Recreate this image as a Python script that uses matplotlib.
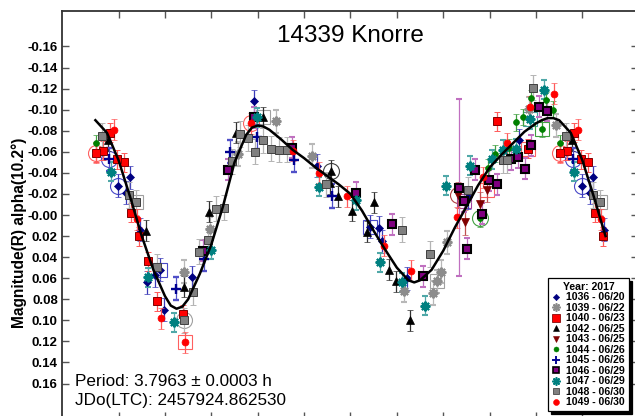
"""Lightcurve of 14339 Knorre, phased to P = 3.7963 h."""

import matplotlib

matplotlib.use("Agg")

import matplotlib.pyplot as plt
import numpy as np
from matplotlib.lines import Line2D

plt.rcParams["font.family"] = ["Liberation Sans", "DejaVu Sans"]

# ---- data (phase 0..1, reduced magnitude) ----
S1036_PH = [0.999, 0.024, 0.016, 0.046, 0.062, 0.078, 0.089, 0.098, 0.158, 0.292,
            0.427, 0.542, 0.562, 0.567, 0.621, 0.754, 0.864]
S1036_MAG = [-0.028, -0.036, -0.021, 0.014, 0.064, 0.057, 0.052, 0.090, 0.059, -0.108,
             -0.047, 0.011, 0.012, 0.025, 0.060, -0.017, -0.071]

S1039_PH = [0.141, 0.198, 0.258, 0.339, 0.418, 0.615, 0.677, 0.686, 0.695, 0.709,
            0.885, 0.943]
S1039_MAG = [0.054, 0.013, -0.058, -0.089, -0.056, 0.072, 0.074, 0.063, 0.054, 0.026,
             -0.101, -0.085]

S1040_PH = [0.966, 0.982, 0.997, 0.012, 0.027, 0.044, 0.064, 0.083, 0.138, 0.816,
            0.883, 0.951]
S1040_MAG = [-0.061, -0.078, -0.053, -0.050, -0.002, 0.020, 0.044, 0.082, 0.094, -0.089,
             -0.063, -0.059]

S1042_PH = [0.978, 0.059, 0.141, 0.195, 0.254, 0.312, 0.459, 0.456, 0.474, 0.504,
            0.550, 0.535, 0.583, 0.598, 0.628]
S1042_MAG = [-0.071, 0.015, 0.068, -0.003, -0.078, -0.093, -0.042, -0.030, -0.018, -0.004,
             -0.012, 0.016, 0.052, 0.063, 0.100]

S1043_PH = [0.732, 0.748, 0.795, 0.779]
S1043_MAG = [-0.019, 0.007, -0.024, -0.010]

S1044_PH = [0.951, 0.779, 0.796, 0.811, 0.842, 0.858, 0.873, 0.890, 0.921, 0.936, 0.914]
S1044_MAG = [-0.068, 0.003, -0.045, -0.058, -0.064, -0.088, -0.093, -0.111, -0.109, -0.100,
             -0.082]

S1045_PH = [0.980, 0.124, 0.184, 0.240, 0.298, 0.379, 0.461]
S1045_MAG = [-0.053, 0.070, 0.042, -0.060, -0.074, -0.052, -0.018]

S1046_PH = [0.181, 0.237, 0.292, 0.374, 0.511, 0.590, 0.657, 0.734, 0.745, 0.752,
            0.768, 0.783, 0.799, 0.815, 0.846, 0.862, 0.876, 0.890, 0.907, 0.923]
S1046_MAG = [0.034, -0.043, -0.093, -0.064, -0.021, 0.009, 0.058, -0.026, -0.013, 0.032,
             -0.043, -0.001, -0.033, -0.029, -0.053, -0.055, -0.044, -0.066, -0.103, -0.099]
S1046_BIG_ERR_INDEX = 7
S1046_BIG_ERR = 0.084

S1047_PH = [0.983, 0.064, 0.120, 0.200, 0.299, 0.433, 0.513, 0.563, 0.612, 0.660,
            0.707, 0.757, 0.806, 0.829, 0.857, 0.887, 0.918]
S1047_MAG = [-0.041, 0.059, 0.102, 0.033, -0.093, -0.027, -0.014, 0.045, 0.064, 0.086,
             -0.028, -0.047, -0.053, -0.062, -0.063, -0.091, -0.119]

S1048_PH = [0.964, 0.023, 0.037, 0.082, 0.141, 0.160, 0.174, 0.192, 0.210, 0.228,
            0.244, 0.262, 0.278, 0.295, 0.312, 0.328, 0.346, 0.364, 0.448, 0.612,
            0.671, 0.754, 0.828, 0.838, 0.894]
S1048_MAG = [-0.075, -0.019, -0.012, 0.049, 0.100, 0.073, 0.035, 0.024, -0.006, -0.007,
             -0.051, -0.077, -0.073, -0.060, -0.071, -0.063, -0.062, -0.062, -0.029, 0.014,
             0.037, -0.024, -0.052, -0.052, -0.121]

S1049_PH = [0.991, 0.951, 0.040, 0.091, 0.143, 0.285, 0.377, 0.433, 0.492, 0.572,
            0.630, 0.729, 0.785, 0.838, 0.888, 0.939]
S1049_MAG = [-0.081, -0.059, 0.004, 0.098, 0.121, -0.087, -0.061, -0.040, -0.018, 0.029,
             0.053, 0.002, -0.036, -0.068, -0.103, -0.115]

SESSION_ERR = [0.011, 0.011, 0.009, 0.010, 0.012, 0.008, 0.011, 0.010, 0.009, 0.012, 0.010]
SESSION_LABELS = ["1036 - 06/20", "1039 - 06/22", "1040 - 06/23", "1042 - 06/25",
                  "1043 - 06/25", "1044 - 06/26", "1045 - 06/26", "1046 - 06/29",
                  "1047 - 06/29", "1048 - 06/30", "1049 - 06/30"]

# highlighted (circled / boxed) observations
HL_PH = [0.999, 0.037, 0.089, 0.141, 0.143, 0.285, 0.312, 0.459, 0.542, 0.686,
         0.732, 0.745, 0.795, 0.779, 0.887, 0.914, 0.883, 0.951, 0.980]
HL_MAG = [-0.028, -0.012, 0.052, 0.100, 0.121, -0.087, -0.093, -0.042, 0.011, 0.063,
          -0.019, -0.013, -0.024, 0.003, -0.091, -0.082, -0.063, -0.059, -0.053]
HL_SHAPE = ["o", "s", "s", "o", "s", "o", "s", "o", "s", "s",
            "o", "s", "s", "o", "s", "s", "s", "o", "o"]
HL_COLOR = ["#4848c8", "#a0a0a0", "#4848c8", "#a0a0a0", "#ff6060", "#ff6060", "#a0a0a0",
            "#404040", "#4848c8", "#a0a0a0", "#b04040", "#a040a0", "#ff6060", "#40a040",
            "#40a0a0", "#40a040", "#ff6060", "#ff6060", "#4848c8"]

# Fourier fit
FIT_PH = [0.0, 0.025, 0.05, 0.075, 0.1, 0.1125, 0.125, 0.1375, 0.15, 0.175, 0.2, 0.225,
          0.25, 0.275, 0.2875, 0.3, 0.3125, 0.325, 0.35, 0.375, 0.4, 0.425, 0.45, 0.475,
          0.5, 0.525, 0.55, 0.575, 0.6, 0.625, 0.6375, 0.65, 0.675, 0.7, 0.725, 0.75,
          0.775, 0.8, 0.825, 0.85, 0.875, 0.9, 0.9125, 0.925, 0.9375, 0.95, 0.975, 1.0]
FIT_MAG = [-0.052, -0.017, 0.020, 0.052, 0.077, 0.086, 0.089, 0.087, 0.080, 0.056, 0.028,
           -0.008, -0.050, -0.076, -0.083, -0.085, -0.084, -0.081, -0.072, -0.062, -0.054,
           -0.045, -0.037, -0.029, -0.020, -0.004, 0.015, 0.033, 0.050, 0.062, 0.064, 0.062,
           0.052, 0.034, 0.012, -0.008, -0.028, -0.045, -0.057, -0.068, -0.079, -0.087,
           -0.090, -0.092, -0.092, -0.090, -0.078, -0.052]

Y_TICKS = np.round(np.arange(-0.16, 0.161, 0.02), 2)
X_TICKS = np.round(np.arange(0.0, 1.01, 0.1), 1)

STYLES = [
    dict(marker="D", ms=3.8, mfc="#000080", mec="#000080", mew=0.5, ecolor="#3a3ab8"),
    dict(marker=(8, 2, 0), ms=7, mfc="#8c8c8c", mec="#8c8c8c", mew=1.5, ecolor="#b8b8b8"),
    dict(marker="s", ms=6, mfc="#ff0000", mec="#800000", mew=0.7, ecolor="#ff5a5a"),
    dict(marker="^", ms=5.5, mfc="#000000", mec="#000000", mew=0.5, ecolor="#303030"),
    dict(marker="v", ms=5.5, mfc="#800000", mec="#800000", mew=0.5, ecolor="#c05050"),
    dict(marker="o", ms=4.2, mfc="#008000", mec="#008000", mew=0.5, ecolor="#40a040"),
    dict(marker="+", ms=7.5, mfc="#000090", mec="#000090", mew=1.7, ecolor="#5050c8"),
    dict(marker="s", ms=5.6, mfc="#800080", mec="#000000", mew=1.5, ecolor="#c070c0"),
    dict(marker=(8, 2, 0), ms=7, mfc="#008080", mec="#008080", mew=1.5, ecolor="#50a8a8"),
    dict(marker="s", ms=5.8, mfc="#808080", mec="#404040", mew=0.7, ecolor="#b4b4b4"),
    dict(marker="o", ms=5, mfc="#ff0000", mec="#ff0000", mew=0.5, ecolor="#ff5a5a"),
]


def wrap(ph, mag, err=None):
    ph = np.asarray(ph, dtype=float)
    mag = np.asarray(mag, dtype=float)
    lo = ph > 0.95
    hi = ph < 0.05
    out_ph = np.concatenate([ph, ph[lo] - 1.0, ph[hi] + 1.0])
    out_mag = np.concatenate([mag, mag[lo], mag[hi]])
    if err is None:
        return out_ph, out_mag
    err = np.asarray(err, dtype=float)
    return out_ph, out_mag, np.concatenate([err, err[lo], err[hi]])


def main() -> None:
    W, H = 635, 416
    fig = plt.figure(figsize=(W / 100, H / 100), dpi=100)
    left, right, top, bottom = 62, 638, 11, 419
    ax = fig.add_axes([left / W, 1 - bottom / H, (right - left) / W, (bottom - top) / H])

    sessions = [
        (S1036_PH, S1036_MAG), (S1039_PH, S1039_MAG), (S1040_PH, S1040_MAG),
        (S1042_PH, S1042_MAG), (S1043_PH, S1043_MAG), (S1044_PH, S1044_MAG),
        (S1045_PH, S1045_MAG), (S1046_PH, S1046_MAG), (S1047_PH, S1047_MAG),
        (S1048_PH, S1048_MAG), (S1049_PH, S1049_MAG),
    ]

    # highlight rings below the points
    for ph, mag, shp, col in zip(HL_PH, HL_MAG, HL_SHAPE, HL_COLOR):
        x, y = wrap([ph], [mag])
        ax.plot(x, y, ls="none", marker=shp, ms=10.5 if shp == "s" else 11.5,
                mfc="none", mec=col, mew=0.8, zorder=2)

    handles = []
    for i, (ph, mag) in enumerate(sessions):
        st = STYLES[i]
        err = np.full(len(ph), SESSION_ERR[i])
        if i == 7:
            err[S1046_BIG_ERR_INDEX] = S1046_BIG_ERR
        x, y, e = wrap(ph, mag, err)
        ax.errorbar(x, y, yerr=e, ls="none", marker=st["marker"], ms=st["ms"],
                    mfc=st["mfc"], mec=st["mec"], mew=st["mew"], ecolor=st["ecolor"],
                    elinewidth=0.9, capsize=2.2, capthick=0.9, zorder=3 + i * 0.01)
        handles.append(Line2D([], [], ls="none", marker=st["marker"],
                              ms=st["ms"] * 0.85, mfc=st["mfc"], mec=st["mec"],
                              mew=st["mew"] * 0.8, label=SESSION_LABELS[i]))

    fit_x = np.concatenate([np.asarray(FIT_PH[-3:-1]) - 1.0, FIT_PH, np.asarray(FIT_PH[1:3]) + 1.0])
    fit_y = np.concatenate([FIT_MAG[-3:-1], FIT_MAG, FIT_MAG[1:3]])
    ax.plot(fit_x, fit_y, color="black", lw=1.8, zorder=5)

    ax.set_xlim(-0.122, 1.12)
    ax.set_ylim(0.1937, -0.1937)
    ax.set_yticks(Y_TICKS)
    ax.set_yticklabels([f"{v:.2f}" for v in Y_TICKS], fontsize=9.5, fontweight="bold")
    ax.set_xticks(X_TICKS)
    ax.set_xticklabels([])
    ax.tick_params(direction="in", length=5, width=1, color="#555555",
                   top=True, right=True, pad=3)
    for sp in ax.spines.values():
        sp.set_color("#333333")
        sp.set_linewidth(1.3)

    fig.text(19 / W, 1 - 233 / H, "Magnitude(R) alpha(10.2°)", rotation=90,
             ha="center", va="center", fontsize=11.2, fontweight="bold")
    fig.text(350 / W, 1 - 36 / H, "14339 Knorre", ha="center", va="center", fontsize=17.5)
    fig.text(75 / W, 1 - 382 / H, "Period: 3.7963 ± 0.0003 h", ha="left", va="center",
             fontsize=12.3)
    fig.text(75 / W, 1 - 400 / H, "JDo(LTC): 2457924.862530", ha="left", va="center",
             fontsize=12.3)

    leg = ax.legend(handles=handles, title="Year: 2017", loc="upper left",
                    bbox_to_anchor=(548 / W, 1 - 278 / H), bbox_transform=fig.transFigure,
                    prop=dict(size=7.6, weight="bold"), title_fontproperties=dict(size=7.6, weight="bold"),
                    frameon=True, fancybox=False, shadow=dict(color="black", alpha=1.0),
                    edgecolor="black", framealpha=1.0, borderpad=0.35, labelspacing=0.05,
                    handlelength=0.9, handletextpad=0.5, borderaxespad=0.0)
    leg.get_frame().set_linewidth(0.9)
    leg.set_zorder(10)

    fig.savefig("out.png", dpi=100)
    plt.close(fig)


if __name__ == "__main__":
    main()
